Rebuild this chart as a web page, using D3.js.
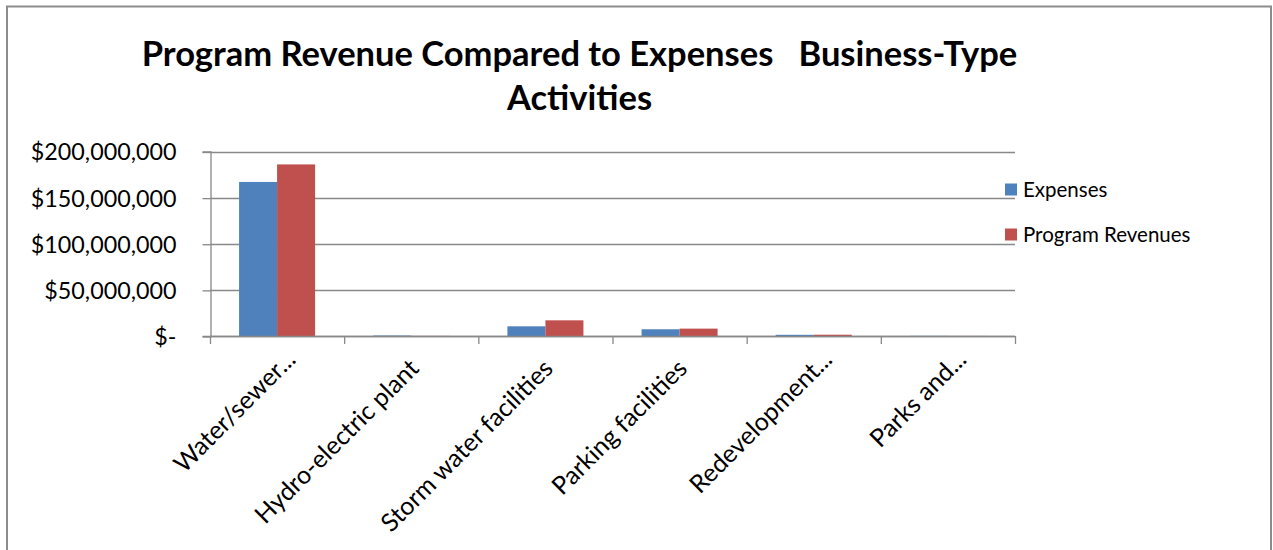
<!DOCTYPE html>
<html>
<head>
<meta charset="utf-8">
<script src="https://cdn.jsdelivr.net/npm/d3@7"></script>
<style>
  html, body { margin: 0; padding: 0; background: #fff; }
  svg { display: block; font-family: Lato, "Open Sans", sans-serif; }
</style>
</head>
<body>
<svg id="chart" width="1273" height="550"></svg>
<script>
// Business-type activities and their figures (dollars)
const categories = [
  "Water/sewer...",
  "Hydro-electric plant",
  "Storm water facilities",
  "Parking facilities",
  "Redevelopment...",
  "Parks and..."
];
const seriesNames = ["Expenses", "Program Revenues"];
const expenses = [167000000, 500000, 10500000, 7300000, 1300000, 150000];
const programRevenues = [186000000, 100000, 17000000, 8000000, 1400000, 60000];
const yTicks = [0, 50000000, 100000000, 150000000, 200000000];
const titleLines = ["Program Revenue Compared to Expenses   Business-Type", "Activities"];

const colors = { "Expenses": "#4F81BD", "Program Revenues": "#C0504D" };
const gridColor = "#898989";

const svg = d3.select("#chart");

// outer chart border
svg.append("rect")
  .attr("x", 7).attr("y", 6.5)
  .attr("width", 1264).attr("height", 600)
  .attr("fill", "#fff")
  .attr("stroke", "#8c8c8c")
  .attr("stroke-width", 2);

// title
const title = svg.append("text")
  .attr("text-anchor", "middle")
  .attr("font-weight", "bold")
  .attr("font-size", 34.5)
  .attr("fill", "#000")
  .style("white-space", "pre");
title.selectAll("tspan")
  .data(titleLines)
  .join("tspan")
  .attr("x", 579.5)
  .attr("y", (d, i) => 66 + i * 44)
  .text(d => d);

// plot area
const plot = { left: 210, right: 1015, top: 151.5, bottom: 336 };

const x = d3.scaleBand()
  .domain(categories)
  .range([plot.left, plot.right])
  .padding(0);

const xInner = d3.scaleBand()
  .domain(seriesNames)
  .range([0, x.bandwidth()])
  .paddingInner(0)
  .paddingOuter(0.765);

const y = d3.scaleLinear()
  .domain([0, 200000000])
  .range([plot.bottom, plot.top]);

// horizontal gridlines
svg.append("g")
  .selectAll("line")
  .data(yTicks)
  .join("line")
  .attr("x1", plot.left).attr("x2", plot.right)
  .attr("y1", d => Math.round(y(d)) + 0.5)
  .attr("y2", d => Math.round(y(d)) + 0.5)
  .attr("stroke", gridColor)
  .attr("stroke-width", 1.3);

// y axis
const fmt = d3.format("$,");
const yAxis = d3.axisLeft(y)
  .tickValues(yTicks)
  .tickSize(8)
  .tickPadding(26)
  .tickFormat(d => d === 0 ? "$-" : fmt(d));

const gy = svg.append("g")
  .attr("transform", `translate(${plot.left + 0.5},0)`)
  .call(yAxis);
gy.select(".domain").attr("stroke", gridColor).attr("stroke-width", 1.3);
gy.selectAll(".tick line").attr("stroke", gridColor).attr("stroke-width", 1.3)
  .attr("transform", "translate(0,0.5)");
gy.selectAll(".tick text")
  .attr("font-family", "Lato, sans-serif")
  .attr("font-size", 23.3)
  .attr("fill", "#000")
  .attr("dy", "0.36em");

// bars
const rows = categories.map((c, i) => ({
  category: c,
  values: [
    { key: "Expenses", value: expenses[i] },
    { key: "Program Revenues", value: programRevenues[i] }
  ]
}));

svg.append("g")
  .selectAll("g")
  .data(rows)
  .join("g")
  .attr("transform", d => `translate(${x(d.category)},0)`)
  .selectAll("rect")
  .data(d => d.values)
  .join("rect")
  .attr("x", d => xInner(d.key))
  .attr("width", xInner.bandwidth())
  .attr("y", d => y(d.value))
  .attr("height", d => y(0) - y(d.value))
  .attr("fill", d => colors[d.key]);

// x axis with ticks on category boundaries
const boundaries = categories.map(c => x(c)).concat([plot.right]);
const gx = svg.append("g");
gx.append("line")
  .attr("x1", plot.left).attr("x2", plot.right)
  .attr("y1", plot.bottom + 0.5).attr("y2", plot.bottom + 0.5)
  .attr("stroke", gridColor).attr("stroke-width", 1.3);
gx.selectAll("line.tick")
  .data(boundaries)
  .join("line")
  .attr("class", "tick")
  .attr("x1", d => d + 0.5).attr("x2", d => d + 0.5)
  .attr("y1", plot.bottom).attr("y2", plot.bottom + 8)
  .attr("stroke", gridColor).attr("stroke-width", 1.3);

// rotated category labels
gx.selectAll("text")
  .data(categories)
  .join("text")
  .attr("transform", d => {
    const cut = d.endsWith("...");
    const ax = x(d) + x.bandwidth() / 2 + (cut ? 20 : 9);
    const ay = plot.bottom + (cut ? 25 : 34);
    return `translate(${ax},${ay}) rotate(-45)`;
  })
  .attr("text-anchor", "end")
  .attr("font-size", 25)
  .attr("fill", "#000")
  .text(d => d);

// legend
const legend = svg.append("g")
  .selectAll("g")
  .data(seriesNames)
  .join("g")
  .attr("transform", (d, i) => `translate(1005,${189.5 + i * 45})`);
legend.append("rect")
  .attr("x", 0).attr("y", -6)
  .attr("width", 12).attr("height", 12)
  .attr("fill", d => colors[d]);
legend.append("text")
  .attr("x", 18)
  .attr("y", 7)
  .attr("font-size", 20.5)
  .attr("fill", "#000")
  .text(d => d);
</script>
</body>
</html>
